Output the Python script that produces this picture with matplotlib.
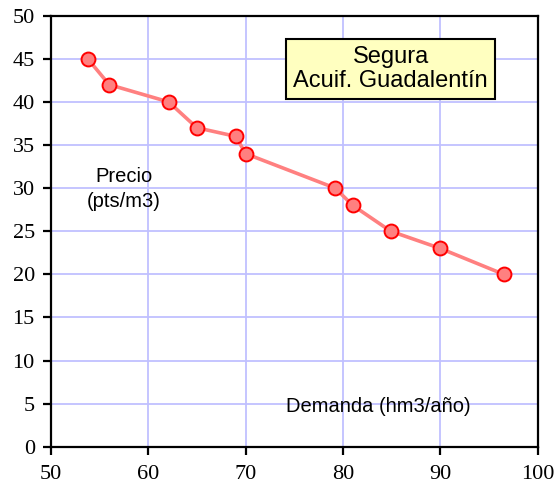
import matplotlib.pyplot as plt

# demanda (hm3/año) y precio (pts/m3)
demanda = [53.8, 56.0, 62.1, 65.0, 69.0, 70.0, 79.2, 81.0, 84.9, 90.0, 96.5]
precio = [45, 42, 40, 37, 36, 34, 30, 28, 25, 23, 20]

x_ticks = [50, 60, 70, 80, 90, 100]
y_ticks = [0, 5, 10, 15, 20, 25, 30, 35, 40, 45, 50]

fig = plt.figure(figsize=(5.55, 4.93), dpi=100)
ax = fig.add_axes([0.0914, 0.0939, 0.8775, 0.8743])

ax.plot(demanda, precio, color="#ff8080", lw=2.6, marker="o", markersize=10,
        markerfacecolor="#ff8080", markeredgecolor="red", markeredgewidth=1.4, zorder=3)

ax.set_xlim(50, 100)
ax.set_ylim(0, 50)
ax.set_xticks(x_ticks)
ax.set_yticks(y_ticks)
ax.grid(True, color="#c0c0ff", lw=1.3)
ax.set_axisbelow(True)
for s in ax.spines.values():
    s.set_linewidth(1.6)
ax.tick_params(direction="out", length=5.5, width=1.6, labelsize=16)
ax.tick_params(axis="x", pad=8)
ax.tick_params(axis="y", pad=6)
for lbl in ax.get_xticklabels() + ax.get_yticklabels():
    lbl.set_fontfamily("Liberation Serif")

ax.text(57.5, 29.9, "Precio\n(pts/m3)", ha="center", va="center",
        fontsize=14.5, family="Liberation Sans", linespacing=1.35)
ax.text(83.6, 4.65, "Demanda (hm3/año)", ha="center", va="center",
        fontsize=14.5, family="Liberation Sans")
ax.text(84.9, 43.8, "Segura\nAcuif. Guadalentín", ha="center", va="center",
        fontsize=17, family="Liberation Sans", linespacing=1.15,
        bbox=dict(boxstyle="square,pad=0.3", facecolor="#ffffc0", edgecolor="black", lw=1.5))

fig.savefig("out.png", dpi=100)
